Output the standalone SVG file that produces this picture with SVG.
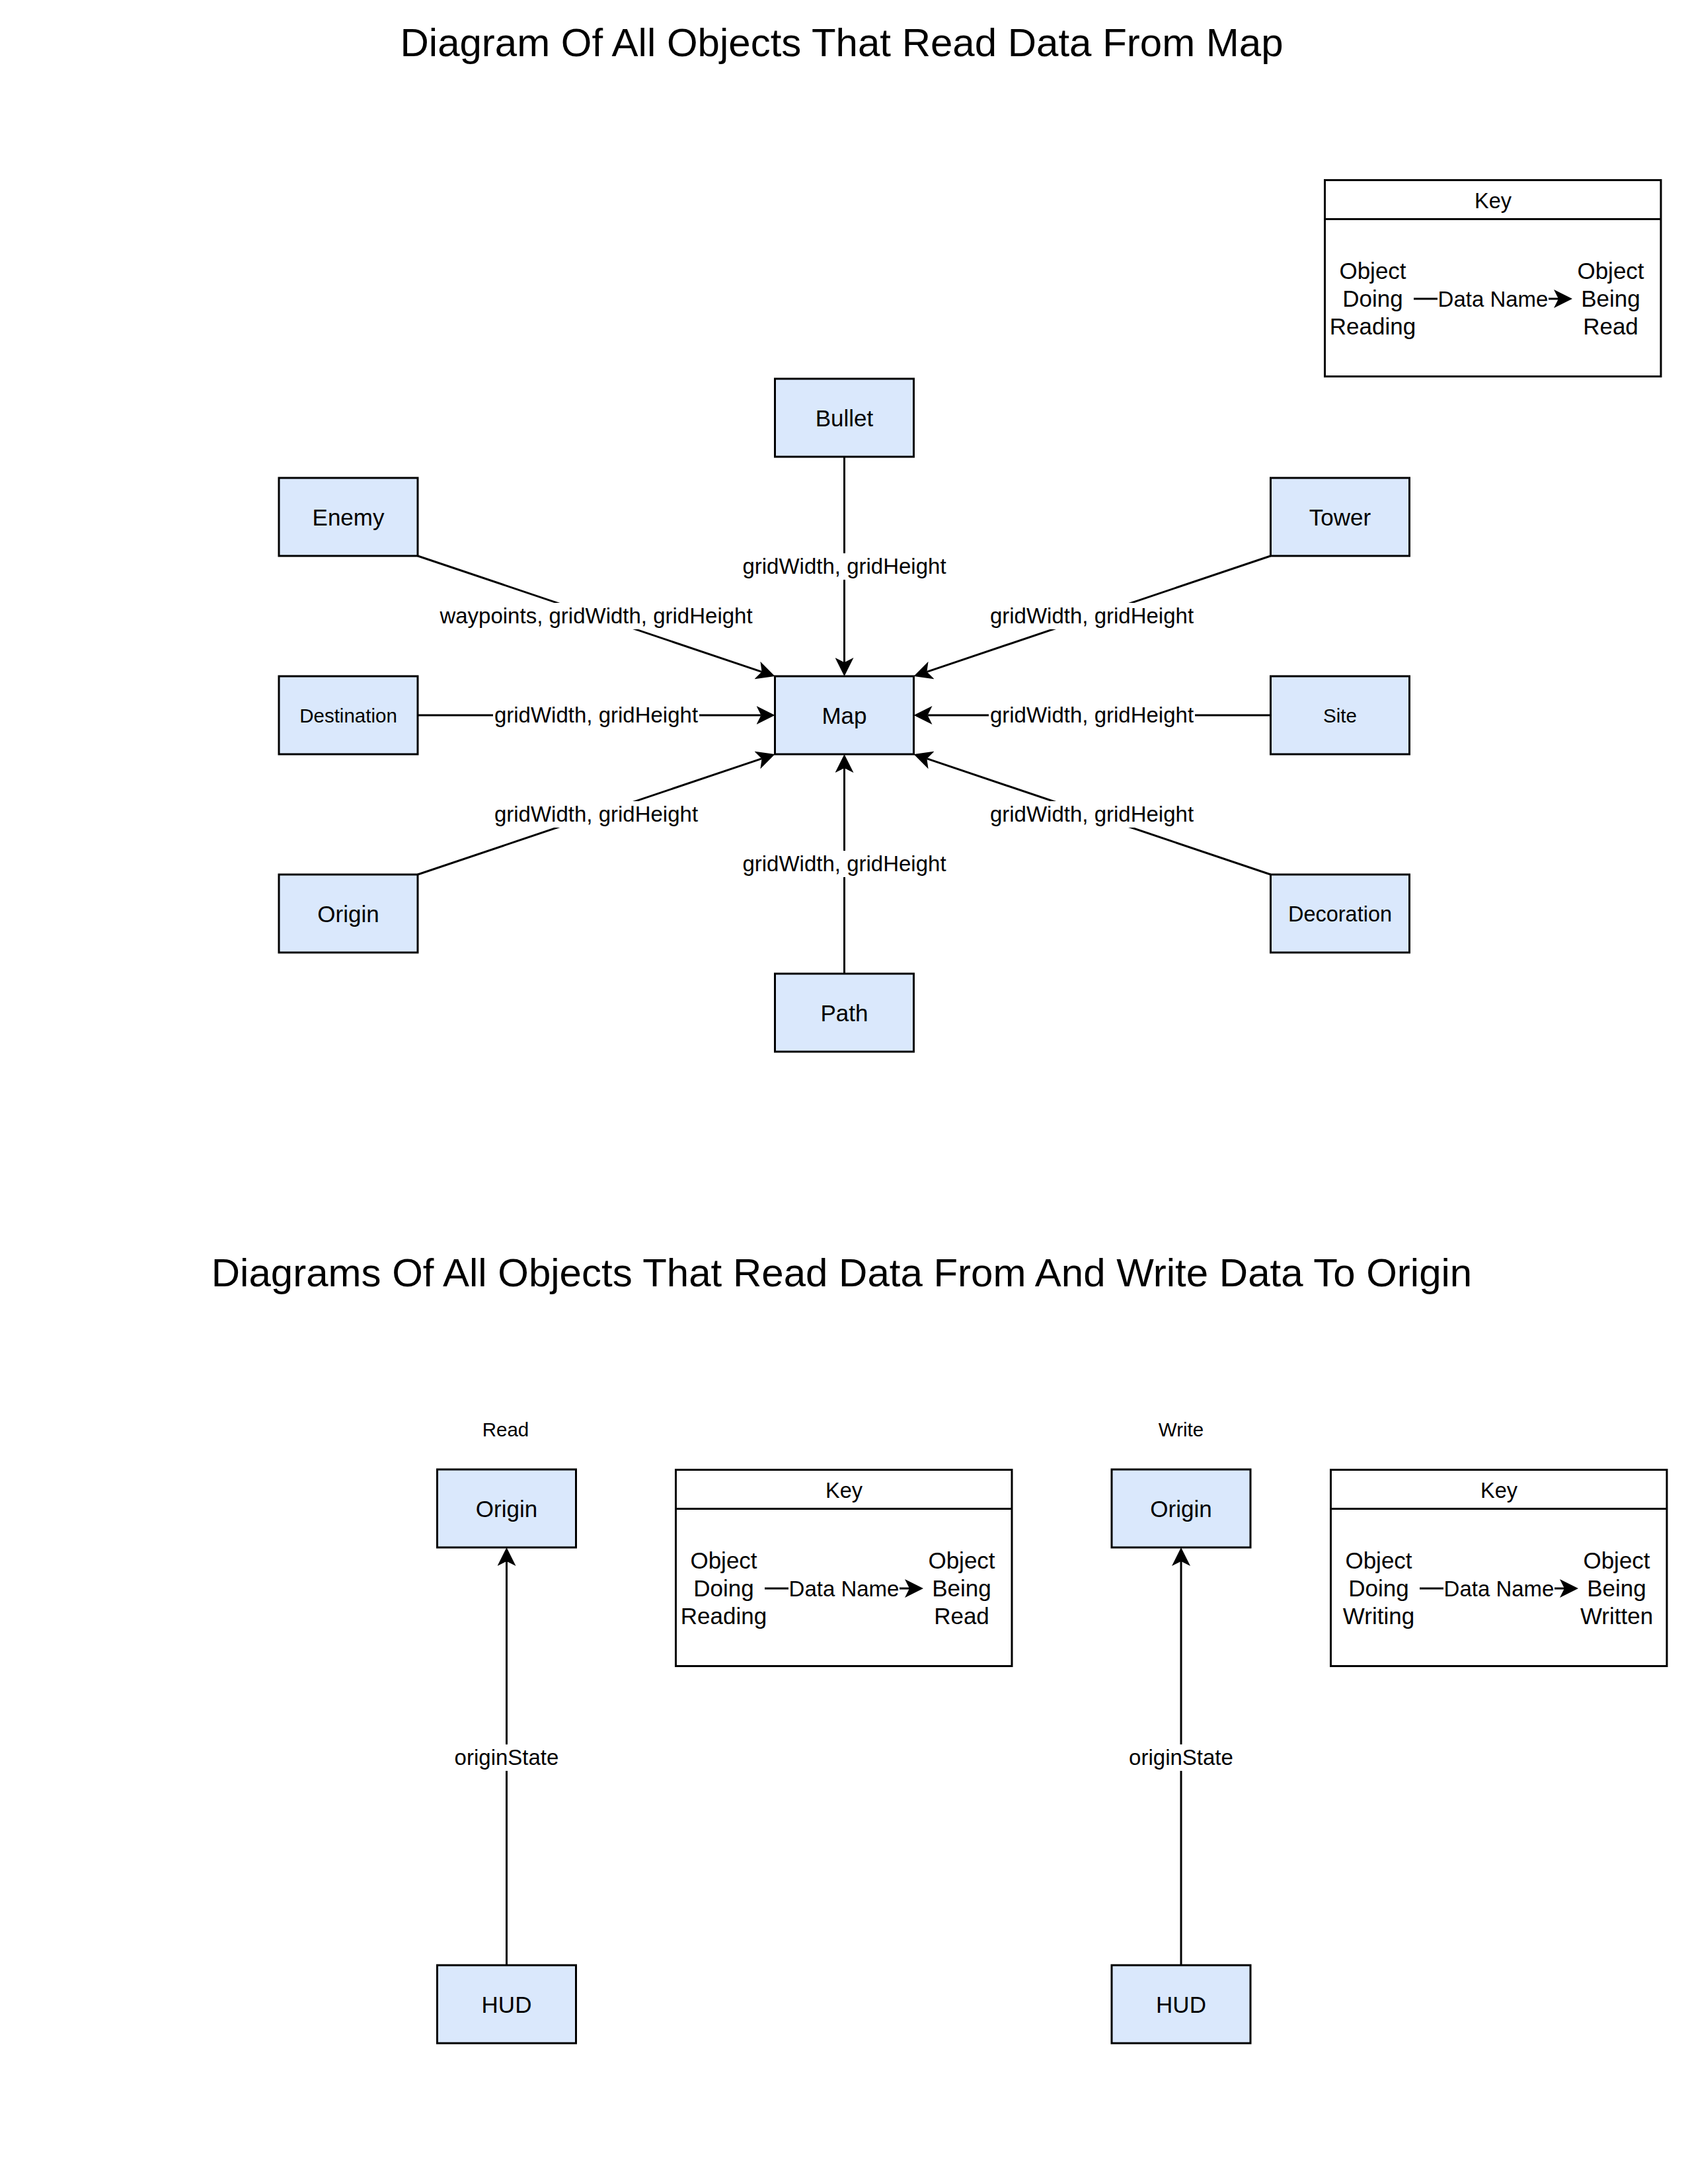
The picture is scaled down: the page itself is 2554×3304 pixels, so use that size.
<svg xmlns="http://www.w3.org/2000/svg" width="2554" height="3304" viewBox="0 0 2554 3304">
<style>
.bg{fill:#ffffff}
.node rect{fill:#dae8fc;stroke:#000000;stroke-width:3}
.t{font-family:"Liberation Sans",Arial,sans-serif;text-anchor:middle;fill:#000000}
.n{font-size:35px}
.s{font-size:29.5px}
.m{font-size:32.5px}
.l{font-size:33px}
.title{font-size:60px}
.edge{stroke:#000000;stroke-width:3;fill:none;marker-end:url(#arr)}
rect.lb{fill:#ffffff;stroke:none}
.key rect.frame{fill:#ffffff;stroke:#000000;stroke-width:3}
.key line.h{stroke:#000000;stroke-width:3}
</style>
<defs>
<marker id="arr" viewBox="-28 -14 28 28" markerWidth="28" markerHeight="28" refX="-21" refY="0" orient="auto" markerUnits="userSpaceOnUse">
<path d="M0,0 L-28,-14 L-21,0 L-28,14 Z" fill="#000000"/>
</marker>
</defs>
<rect class="bg" x="0" y="0" width="2554" height="3304"/>

<g id="titles">
<text class="t title" x="1273.5" y="85">Diagram Of All Objects That Read Data From Map</text>
<text class="t title" x="1273.5" y="1946">Diagrams Of All Objects That Read Data From And Write Data To Origin</text>
<text class="t s" x="765" y="2173">Read</text>
<text class="t s" x="1787" y="2173">Write</text>
</g>

<g id="connectors">
<line class="edge" x1="632" y1="841" x2="1152.6" y2="1016.3"/>
<line class="edge" x1="1922.5" y1="841" x2="1402.4" y2="1016.3"/>
<line class="edge" x1="632" y1="1082" x2="1151.5" y2="1082"/>
<line class="edge" x1="1922.5" y1="1082" x2="1403.5" y2="1082"/>
<line class="edge" x1="632" y1="1323" x2="1152.6" y2="1147.7"/>
<line class="edge" x1="1922.5" y1="1323" x2="1402.4" y2="1147.7"/>
<line class="edge" x1="1277.5" y1="691" x2="1277.5" y2="1002"/>
<line class="edge" x1="1277.5" y1="1473" x2="1277.5" y2="1162"/>
<line class="edge" x1="766.5" y1="2973" x2="766.5" y2="2362"/>
<line class="edge" x1="1787" y1="2973" x2="1787" y2="2362"/>

<rect class="lb" x="663.5" y="912" width="477" height="40"/>
<text class="t l" x="902" y="943">waypoints, gridWidth, gridHeight</text>
<rect class="lb" x="1496" y="912" width="312" height="40"/>
<text class="t l" x="1652" y="943">gridWidth, gridHeight</text>
<rect class="lb" x="746" y="1062" width="312" height="40"/>
<text class="t l" x="902" y="1093">gridWidth, gridHeight</text>
<rect class="lb" x="1496" y="1062" width="312" height="40"/>
<text class="t l" x="1652" y="1093">gridWidth, gridHeight</text>
<rect class="lb" x="746" y="1212" width="312" height="40"/>
<text class="t l" x="902" y="1243">gridWidth, gridHeight</text>
<rect class="lb" x="1496" y="1212" width="312" height="40"/>
<text class="t l" x="1652" y="1243">gridWidth, gridHeight</text>
<rect class="lb" x="1121.5" y="837" width="312" height="40"/>
<text class="t l" x="1277.5" y="868">gridWidth, gridHeight</text>
<rect class="lb" x="1121.5" y="1287" width="312" height="40"/>
<text class="t l" x="1277.5" y="1318">gridWidth, gridHeight</text>
<rect class="lb" x="685.5" y="2639" width="162" height="40"/>
<text class="t l" x="766.5" y="2670">originState</text>
<rect class="lb" x="1706" y="2639" width="162" height="40"/>
<text class="t l" x="1787" y="2670">originState</text>
</g>

<g id="node-bullet" class="node"><rect x="1172.5" y="573" width="210" height="118"/><text class="t n" x="1277.5" y="644.5">Bullet</text></g>
<g id="node-enemy" class="node"><rect x="422" y="723" width="210" height="118"/><text class="t n" x="527" y="794.5">Enemy</text></g>
<g id="node-tower" class="node"><rect x="1922.5" y="723" width="210" height="118"/><text class="t n" x="2027.5" y="794.5">Tower</text></g>
<g id="node-destination" class="node"><rect x="422" y="1023" width="210" height="118"/><text class="t s" x="527" y="1092.5">Destination</text></g>
<g id="node-map" class="node"><rect x="1172.5" y="1023" width="210" height="118"/><text class="t n" x="1277.5" y="1094.5">Map</text></g>
<g id="node-site" class="node"><rect x="1922.5" y="1023" width="210" height="118"/><text class="t s" x="2027.5" y="1092.5">Site</text></g>
<g id="node-origin" class="node"><rect x="422" y="1323" width="210" height="118"/><text class="t n" x="527" y="1394.5">Origin</text></g>
<g id="node-decoration" class="node"><rect x="1922.5" y="1323" width="210" height="118"/><text class="t m" x="2027.5" y="1393.5">Decoration</text></g>
<g id="node-path" class="node"><rect x="1172.5" y="1473" width="210" height="118"/><text class="t n" x="1277.5" y="1544.5">Path</text></g>

<g id="node-origin-read" class="node"><rect x="661.5" y="2223" width="210" height="118"/><text class="t n" x="766.5" y="2294.5">Origin</text></g>
<g id="node-hud-read" class="node"><rect x="661.5" y="2973" width="210" height="118"/><text class="t n" x="766.5" y="3044.5">HUD</text></g>
<g id="node-origin-write" class="node"><rect x="1682" y="2223" width="210" height="118"/><text class="t n" x="1787" y="2294.5">Origin</text></g>
<g id="node-hud-write" class="node"><rect x="1682" y="2973" width="210" height="118"/><text class="t n" x="1787" y="3044.5">HUD</text></g>

<g id="key-map" class="key" transform="translate(2003,271)">
<rect class="frame" x="1.5" y="1.5" width="508.5" height="297"/>
<line class="h" x1="1.5" y1="60.5" x2="510" y2="60.5"/>
<text class="t m" x="256" y="44">Key</text>
<text class="t n"><tspan x="74" y="151">Object</tspan><tspan x="74" y="193">Doing</tspan><tspan x="74" y="235">Reading</tspan></text>
<text class="t n"><tspan x="434" y="151">Object</tspan><tspan x="434" y="193">Being</tspan><tspan x="434" y="235">Read</tspan></text>
<line class="edge" x1="136" y1="181" x2="355" y2="181"/>
<rect class="lb" x="172" y="161" width="168" height="40"/>
<text class="t l" x="256" y="192.5">Data Name</text>
</g>

<g id="key-read" class="key" transform="translate(1021,2222)">
<rect class="frame" x="1.5" y="1.5" width="508.5" height="297"/>
<line class="h" x1="1.5" y1="60.5" x2="510" y2="60.5"/>
<text class="t m" x="256" y="44">Key</text>
<text class="t n"><tspan x="74" y="151">Object</tspan><tspan x="74" y="193">Doing</tspan><tspan x="74" y="235">Reading</tspan></text>
<text class="t n"><tspan x="434" y="151">Object</tspan><tspan x="434" y="193">Being</tspan><tspan x="434" y="235">Read</tspan></text>
<line class="edge" x1="136" y1="181" x2="355" y2="181"/>
<rect class="lb" x="172" y="161" width="168" height="40"/>
<text class="t l" x="256" y="192.5">Data Name</text>
</g>

<g id="key-write" class="key" transform="translate(2012,2222)">
<rect class="frame" x="1.5" y="1.5" width="508.5" height="297"/>
<line class="h" x1="1.5" y1="60.5" x2="510" y2="60.5"/>
<text class="t m" x="256" y="44">Key</text>
<text class="t n"><tspan x="74" y="151">Object</tspan><tspan x="74" y="193">Doing</tspan><tspan x="74" y="235">Writing</tspan></text>
<text class="t n"><tspan x="434" y="151">Object</tspan><tspan x="434" y="193">Being</tspan><tspan x="434" y="235">Written</tspan></text>
<line class="edge" x1="136" y1="181" x2="355" y2="181"/>
<rect class="lb" x="172" y="161" width="168" height="40"/>
<text class="t l" x="256" y="192.5">Data Name</text>
</g>
</svg>
